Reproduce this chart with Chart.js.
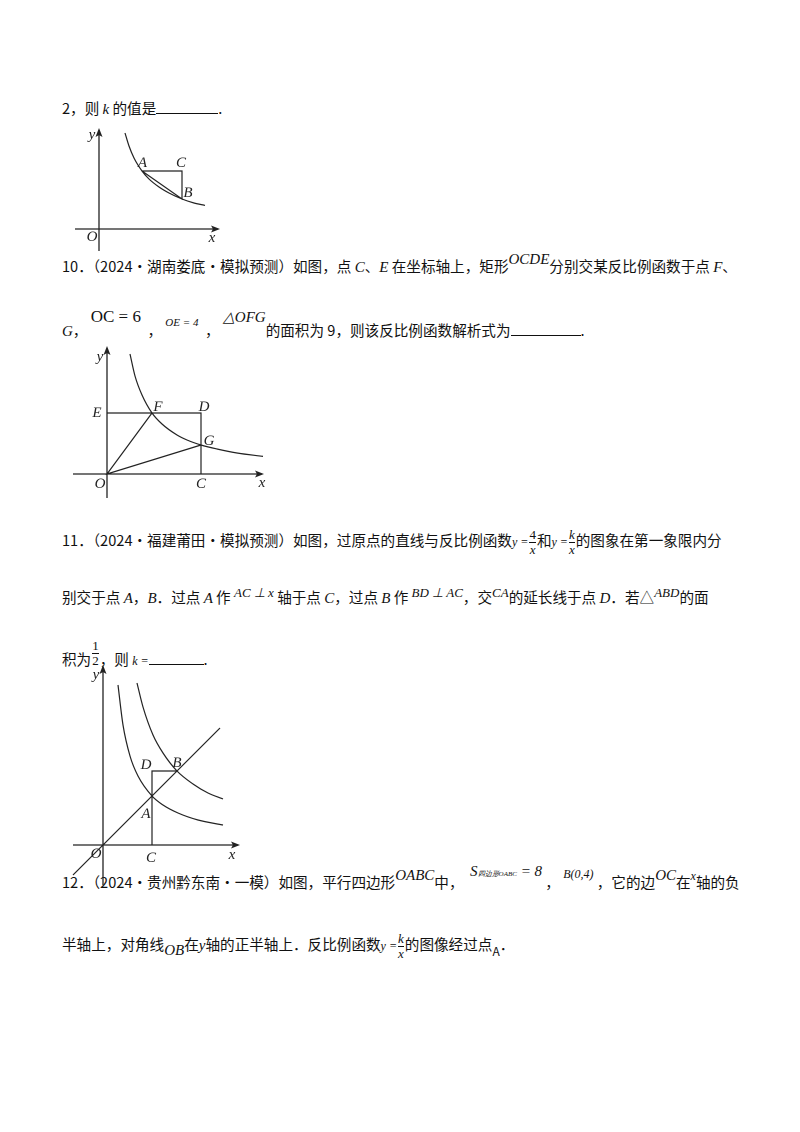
<!DOCTYPE html>
<html><head><meta charset="utf-8">
<script src="https://cdn.jsdelivr.net/npm/chart.js@4"></script>
<style>
body{margin:0;width:800px;height:1132px;background:#fff;position:relative;font-family:"Noto Sans CJK SC","Noto Sans",sans-serif;color:#111;}
.t{position:absolute;left:62px;font-size:14.6px;white-space:nowrap;line-height:20px;}
.m{font-family:"Liberation Serif",serif;font-style:italic;font-size:15px;}
.s{font-family:"Liberation Serif",serif;font-style:italic;font-size:12px;}
.fr{display:inline-block;vertical-align:middle;text-align:center;font-family:"Liberation Serif",serif;font-size:13px;line-height:14px;margin:0 1px}
.fr span{display:block}
.fr .b{border-top:1px solid #111;font-style:italic}
.u{display:inline-block;border-bottom:1px solid #111;height:14px;vertical-align:baseline}
canvas{position:absolute}
</style></head><body>
<div class="t" style="top:98px">2，则 <span class="m">k</span> 的值是<span class="u" style="width:62px"></span>.</div>
<div class="t" style="top:256px">10．（2024·湖南娄底·模拟预测）如图，点 <span class="m">C</span>、<span class="m">E</span> 在坐标轴上，矩形<span class="m" style="position:relative;top:-8px">OCDE</span>分别交某反比例函数于点 <span class="m">F</span>、</div>
<div class="t" style="top:320px"><span class="m">G</span>，&nbsp;<span class="m" style="position:relative;top:-14px;font-size:17px;font-style:normal">OC = 6</span>&nbsp;&nbsp;，&nbsp;<span class="s" style="position:relative;top:-10px;font-size:11px">OE = 4</span>&nbsp;&nbsp;，&nbsp;<span class="m" style="position:relative;top:-14px">△OFG</span>的面积为 9，则该反比例函数解析式为<span class="u" style="width:70px"></span>.</div>
<div class="t" style="top:528px">11．（2024·福建莆田·模拟预测）如图，过原点的直线与反比例函数<span class="s">y =</span><span class="fr"><span>4</span><span class="b">x</span></span>和<span class="s">y =</span><span class="fr"><span style="font-style:italic">k</span><span class="b">x</span></span>的图象在第一象限内分</div>
<div class="t" style="top:587px">别交于点 <span class="m">A</span>，<span class="m">B</span>．过点 <span class="m">A</span> 作 <span class="s" style="position:relative;top:-6px;font-size:13px">AC ⊥ x</span> 轴于点 <span class="m">C</span>，过点 <span class="m">B</span> 作 <span class="s" style="position:relative;top:-6px;font-size:13px">BD ⊥ AC</span>，交<span class="s" style="position:relative;top:-6px;font-size:13px">CA</span>的延长线于点 <span class="m">D</span>．若△<span class="s" style="position:relative;top:-6px;font-size:13px">ABD</span>的面</div>
<div class="t" style="top:647px">积为<span class="fr" style="position:relative;top:-8px"><span>1</span><span class="b" style="font-style:normal">2</span></span>，则 <span class="s">k =</span><span class="u" style="width:55px"></span>.</div>
<div class="t" style="top:872px">12．（2024·贵州黔东南·一模）如图，平行四边形<span class="m" style="position:relative;top:-8px">OABC</span>中，&nbsp;&nbsp;<span class="m" style="position:relative;top:-12px">S<span style="font-size:7px">四边形OABC</span> = 8</span>&nbsp;，&nbsp;<span class="s" style="position:relative;top:-10px">B(0,4)</span>&nbsp;，它的边<span class="m" style="position:relative;top:-8px">OC</span>在<span class="s" style="position:relative;top:-8px">x</span>轴的负</div>
<div class="t" style="top:932px">半轴上，对角线<span class="m" style="position:relative;top:5px">OB</span>在<span class="m">y</span>轴的正半轴上．反比例函数<span class="s">y =</span><span class="fr"><span style="font-style:italic">k</span><span class="b">x</span></span>的图像经过点<span style="position:relative;top:6px;font-size:12px">A</span>．</div>

<canvas id="c1" width="160" height="130" style="left:65px;top:125px"></canvas>
<canvas id="c2" width="210" height="165" style="left:65px;top:340px"></canvas>
<canvas id="c3" width="185" height="230" style="left:65px;top:660px"></canvas>
<script>
// Figure 1 data
const curve1X=[2.6,3,3.5,4.3,5,6,7,8.3,9.5,10.6];
const curve1Y=[9.6,8.3,7.1,5.8,5.0,4.2,3.6,3.0,2.6,2.36];
const pts1={A:[4.3,5.8],C:[8.3,5.8],B:[8.3,3.0]};
// Figure 2 data
const curve2X=[2.3,2.8,3.5,4.5,5.5,7,8,9.4,11,13,15.6];
const curve2Y=[12,9.8,7.9,6.1,5.0,3.9,3.4,2.9,2.5,2.1,1.76];
const pts2={C:[9.4,0],D:[9.4,6.1],E:[0,6.1],F:[4.5,6.1],G:[9.4,2.9]};
// Figure 3 data
const curve3aX=[1.5,2,2.7,3.5,4.9,6,7.5,9.5,12];
const curve3aY=[16,12,8.9,6.9,4.9,4,3.2,2.5,2];
const curve3bX=[3.4,4,5,6,7.4,9,10.5,12];
const curve3bY=[16.2,13.8,11,9.2,7.4,6.1,5.2,4.6];
const line3X=[-3,11.7];
const line3Y=[-3,11.7];
const pts3={A:[4.9,4.9],B:[7.4,7.4],C:[4.9,0],D:[4.9,7.4]};

const zip=(xs,ys)=>xs.map((x,i)=>({x,y:ys[i]}));
const P=p=>({x:p[0],y:p[1]});
function ds(data,curve){return {data,showLine:true,borderColor:'#222',borderWidth:1.2,pointRadius:0,fill:false,tension:curve?0.4:0,cubicInterpolationMode:curve?'monotone':'default'};}
function draw(id,ext,axes,datasets,labels){
  const plug={id:'lab'+id,afterDatasetsDraw(ch){
    const c=ch.ctx,sx=ch.scales.x,sy=ch.scales.y;
    const px=v=>sx.getPixelForValue(v),py=v=>sy.getPixelForValue(v);
    c.save();c.strokeStyle='#222';c.fillStyle='#222';c.lineWidth=1.3;
    c.beginPath();c.moveTo(px(axes.x[0]),py(0));c.lineTo(px(axes.x[1]),py(0));
    c.moveTo(px(0),py(axes.y[0]));c.lineTo(px(0),py(axes.y[1]));c.stroke();
    let ex=px(axes.x[1]),ey=py(0);
    c.beginPath();c.moveTo(ex+2,ey);c.lineTo(ex-7,ey-3.5);c.lineTo(ex-5,ey);c.lineTo(ex-7,ey+3.5);c.closePath();c.fill();
    ex=px(0);ey=py(axes.y[1]);
    c.beginPath();c.moveTo(ex,ey-2);c.lineTo(ex-3.5,ey+7);c.lineTo(ex,ey+5);c.lineTo(ex+3.5,ey+7);c.closePath();c.fill();
    c.font='italic 15px "Liberation Serif", serif';c.textAlign='center';c.textBaseline='middle';
    labels.forEach(l=>c.fillText(l[0],px(l[1])+l[3],py(l[2])+l[4]));
    c.restore();}};
  new Chart(document.getElementById(id),{type:'scatter',data:{datasets},
    options:{responsive:false,animation:false,devicePixelRatio:2,layout:{padding:0},
      plugins:{legend:{display:false},tooltip:{enabled:false}},
      scales:{x:{type:'linear',display:false,min:ext[0],max:ext[1]},y:{type:'linear',display:false,min:ext[2],max:ext[3]}}},
    plugins:[plug]});
}
draw('c1',[-3.4,12.6,-2.6,10.4],{x:[-2.4,11.9],y:[-2.2,9.9]},[
  ds(zip(curve1X,curve1Y),true),
  ds([P(pts1.A),P(pts1.C),P(pts1.B),P(pts1.A)],false)],
  [['y',0,9.4,-7,0],['A',pts1.A[0],pts1.A[1],0.5,-8],['C',pts1.C[0],pts1.C[1],-1,-8],['B',pts1.B[0],pts1.B[1],6,-6],['O',0,0,-7,8],['x',11.3,0,0,9]]);
draw('c2',[-4.2,16.8,-3.1,13.4],{x:[-3.4,15.5],y:[-2.4,12.6]},[
  ds(zip(curve2X,curve2Y),true),
  ds([P(pts2.E),P(pts2.D),P(pts2.C)],false),
  ds([P(pts2.F),{x:0,y:0},P(pts2.G)],false)],
  [['y',0,11.7,-7,0],['E',pts2.E[0],pts2.E[1],-10,0],['F',pts2.F[0],pts2.F[1],6,-6],['D',pts2.D[0],pts2.D[1],3,-6],['G',pts2.G[0],pts2.G[1],8,-4],['O',0,0,-7,10],['C',pts2.C[0],0,0,10],['x',15.5,0,0,9]]);
draw('c3',[-3.8,14.7,-4.5,18.5],{x:[-3,13.5],y:[-4,17.8]},[
  ds(zip(curve3aX,curve3aY),true),
  ds(zip(curve3bX,curve3bY),true),
  ds(zip(line3X,line3Y),false),
  ds([P(pts3.C),P(pts3.D),P(pts3.B)],false)],
  [['y',0,17,-7,0],['D',pts3.D[0],pts3.D[1],-6,-6],['B',pts3.B[0],pts3.B[1],0,-8],['A',pts3.A[0],pts3.A[1],-6,18],['O',0,0,-7,9],['C',pts3.C[0],0,-1,13],['x',12.9,0,0,10]]);
</script>
</body></html>
